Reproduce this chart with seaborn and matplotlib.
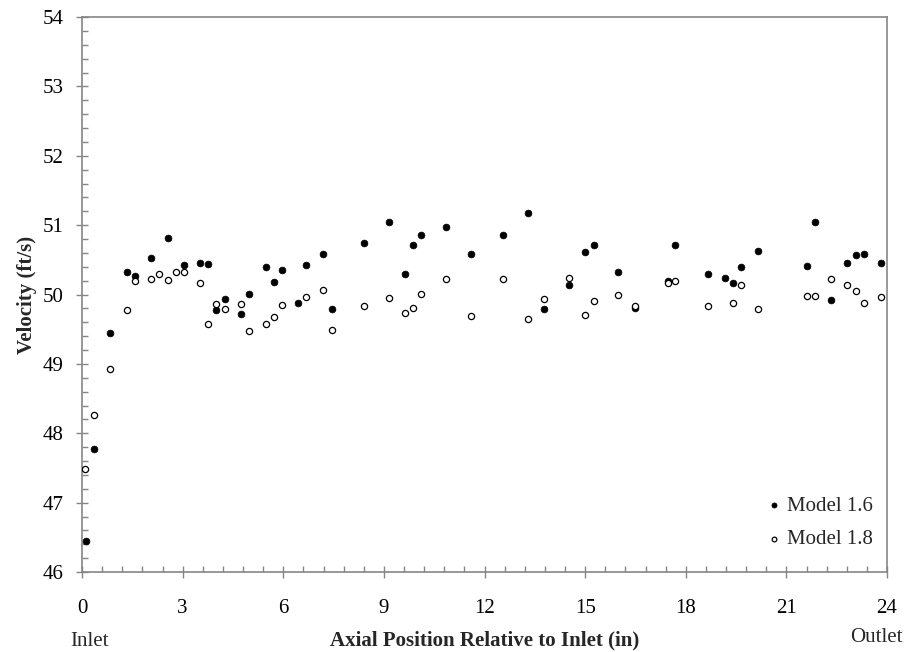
import matplotlib
matplotlib.use("Agg")
import matplotlib.pyplot as plt
import seaborn as sns
import pandas as pd
from matplotlib.ticker import MultipleLocator

# ---- data ----
x16 = [0.12, 0.35, 0.82, 1.33, 1.57, 2.05, 2.55, 3.04, 3.52, 3.76, 4.00, 4.26, 4.75, 4.98,
       5.48, 5.73, 5.97, 6.45, 6.69, 7.19, 7.44, 8.42, 9.14, 9.63, 9.87, 10.11, 10.85, 11.59,
       12.56, 13.30, 13.78, 14.52, 15.00, 15.25, 15.98, 16.48, 17.46, 17.69, 18.67, 19.16,
       19.41, 19.65, 20.14, 21.60, 21.84, 22.34, 22.82, 23.07, 23.32, 23.81]
y16 = [46.44, 47.78, 49.45, 50.32, 50.27, 50.52, 50.81, 50.43, 50.46, 50.44, 49.77, 49.93,
       49.72, 50.01, 50.40, 50.18, 50.35, 49.88, 50.42, 50.59, 49.79, 50.74, 51.04, 50.29,
       50.72, 50.86, 50.97, 50.58, 50.86, 51.17, 49.79, 50.13, 50.61, 50.71, 50.32, 49.80,
       50.20, 50.71, 50.30, 50.24, 50.16, 50.40, 50.63, 50.41, 51.04, 49.92, 50.46, 50.57,
       50.58, 50.45]

x18 = [0.10, 0.35, 0.82, 1.33, 1.57, 2.05, 2.30, 2.55, 2.79, 3.04, 3.52, 3.76, 4.00, 4.26,
       4.75, 4.98, 5.48, 5.73, 5.97, 6.69, 7.19, 7.44, 8.42, 9.14, 9.63, 9.87, 10.11, 10.85,
       11.59, 12.56, 13.30, 13.78, 14.52, 15.00, 15.25, 15.98, 16.48, 17.46, 17.69, 18.67,
       19.41, 19.65, 20.14, 21.60, 21.84, 22.34, 22.82, 23.07, 23.32, 23.81]
y18 = [47.49, 48.26, 48.93, 49.78, 50.20, 50.23, 50.29, 50.21, 50.32, 50.32, 50.17, 49.57,
       49.86, 49.79, 49.86, 49.48, 49.57, 49.67, 49.85, 49.97, 50.06, 49.49, 49.83, 49.95,
       49.74, 49.80, 50.01, 50.23, 49.69, 50.22, 49.64, 49.93, 50.24, 49.71, 49.90, 50.00,
       49.84, 50.17, 50.20, 49.83, 49.88, 50.13, 49.79, 49.98, 49.98, 50.22, 50.14, 50.05,
       49.88, 49.97]

series_labels = ["Model 1.6", "Model 1.8"]
x_ticks = [0, 3, 6, 9, 12, 15, 18, 21, 24]
y_ticks = [46, 47, 48, 49, 50, 51, 52, 53, 54]

df16 = pd.DataFrame({"x": x16, "y": y16})
df18 = pd.DataFrame({"x": x18, "y": y18})

sns.set_theme(style="white")
plt.rcParams["font.family"] = ["Liberation Serif", "DejaVu Serif"]

fig = plt.figure(figsize=(9.05, 6.52), dpi=100)
ax = fig.add_axes([82 / 905, 1 - 572 / 652, (887 - 82) / 905, (572 - 17) / 652])

sns.scatterplot(data=df16, x="x", y="y", ax=ax, color="black", edgecolor="black",
                linewidth=0.5, s=24, marker="o", label=series_labels[0], zorder=3)
sns.scatterplot(data=df18, x="x", y="y", ax=ax, color="white", edgecolor="black",
                linewidth=0.9, s=20, marker="o", label=series_labels[1], zorder=3)

ax.set_xlim(0, 24)
ax.set_ylim(46, 54)
ax.set_xticks(x_ticks)
ax.set_yticks(y_ticks)
ax.set_xticklabels([str(t) for t in x_ticks])
ax.set_yticklabels([str(t) for t in y_ticks])
ax.xaxis.set_minor_locator(MultipleLocator(0.6))
ax.yaxis.set_minor_locator(MultipleLocator(0.2))

spine_col = "#868686"
for sp in ax.spines.values():
    sp.set_color(spine_col)
    sp.set_linewidth(1.2)
    sp.set_visible(True)

ax.tick_params(axis="both", which="major", direction="inout", length=9, width=1.0,
               color=spine_col, labelsize=15, labelcolor="black")
ax.tick_params(axis="both", which="minor", direction="in", length=4, width=1.0,
               color=spine_col)
ax.tick_params(axis="x", which="major", pad=15, bottom=True)
ax.tick_params(axis="y", which="major", pad=9, left=True)
ax.tick_params(axis="x", which="minor", bottom=True)
ax.tick_params(axis="y", which="minor", left=True)
ax.grid(False)

ax.set_xlabel("Axial Position Relative to Inlet (in)", fontsize=15, fontweight="bold",
              labelpad=9)
ax.set_ylabel("Velocity (ft/s)", fontsize=15, fontweight="bold", labelpad=4)

fig.text(70 / 905, 1 - 641 / 652, "Inlet", fontsize=15, ha="left", va="center")
fig.text(903 / 905, 1 - 638 / 652, "Outlet", fontsize=15, ha="right", va="center")

leg = ax.legend(loc="lower right", bbox_to_anchor=(1.0, 0.015), frameon=False,
                fontsize=15, markerscale=0.75, handletextpad=0.1, handlelength=1.0,
                labelspacing=0.65, borderaxespad=0.3)

fig.savefig("out.png", dpi=100)
